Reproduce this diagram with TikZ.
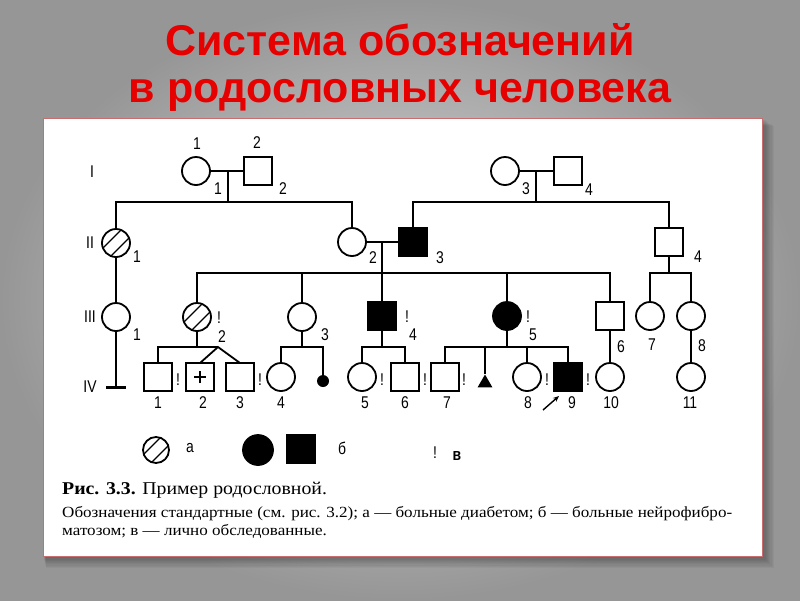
\documentclass[tikz,border=0pt]{standalone}
\usepackage{fontspec}
\setmainfont{Liberation Serif}
\newfontfamily\titlefont{Liberation Sans}
\newfontfamily\pedfont[FakeStretch=0.82]{Liberation Sans}
\newfontfamily\capfont[FakeStretch=1.10]{Liberation Serif}
\usetikzlibrary{shapes.geometric, arrows.meta}
\definecolor{titlered}{RGB}{230,0,0}
\definecolor{bgin}{RGB}{222,222,222}
\definecolor{bgout}{RGB}{150,150,150}
\definecolor{panelborder}{RGB}{200,110,110}
\begin{document}
\begin{tikzpicture}[x=1pt,y=-1pt,
  person/.style={draw, line width=1.8pt, minimum size=28pt, inner sep=0pt, outer sep=0pt},
  fem/.style={person, circle},
  mal/.style={person, rectangle},
  aff/.style={fill=black},
  hatched/.style={path picture={
     \draw[line width=1.3pt] ([shift={(-16,8)}]path picture bounding box.center) -- ([shift={(8,-16)}]path picture bounding box.center);
     \draw[line width=1.3pt] ([shift={(-8,16)}]path picture bounding box.center) -- ([shift={(16,-8)}]path picture bounding box.center);}},
  plussign/.style={path picture={
     \draw[line width=1.8pt] ([xshift=-6pt]path picture bounding box.center) -- ([xshift=6pt]path picture bounding box.center);
     \draw[line width=1.8pt] ([yshift=-6pt]path picture bounding box.center) -- ([yshift=6pt]path picture bounding box.center);}},
  lbl/.style={font=\pedfont\fontsize{17}{17}\selectfont, inner sep=0pt},
  link/.style={line width=1.8pt},
]
\useasboundingbox (0,0) rectangle (800,600);
\shade[inner color=bgin, outer color=bgout] (0,0) rectangle (800,600);
% panel shadow
\foreach \k in {1,...,10}
  \fill[black, opacity=0.035] (43+\k*0.3, 118+\k*0.8) rectangle (762+\k*1.2, 556+\k*1.2);
\fill[white] (43,118) rectangle (762,556);
\draw[panelborder, line width=0.8pt] (43,118) rectangle (762,556);

% title
\node[anchor=base, inner sep=0pt, text=titlered, font=\titlefont\bfseries\fontsize{43}{43}\selectfont] (title1) at (400,55) {Система обозначений};
\node[anchor=base, inner sep=0pt, text=titlered, font=\titlefont\bfseries\fontsize{43}{43}\selectfont] (title2) at (400,102) {в родословных человека};

% generation labels
\node[lbl] (gI) at (92,172) {I};
\node[lbl] (gII) at (90,243) {II};
\node[lbl] (gIII) at (90,317) {III};
\node[lbl] (gIV) at (90,387) {IV};

% generation I
\node[fem] (I1) at (196,171) {};
\node[mal] (I2) at (258,171) {};
\node[fem] (I3) at (505,171) {};
\node[mal] (I4) at (568,171) {};
% generation II
\node[fem, hatched] (II1) at (116,243) {};
\node[fem] (II2) at (352,242) {};
\node[mal, aff] (II3) at (413,242) {};
\node[mal] (II4) at (669,242) {};
% generation III
\node[fem] (III1) at (116,317) {};
\node[fem, hatched] (III2) at (197,317) {};
\node[fem] (III3) at (302,317) {};
\node[mal, aff] (III4) at (382,316) {};
\node[fem, aff] (III5) at (507,316) {};
\node[mal] (III6) at (610,316) {};
\node[fem] (III7) at (650,316) {};
\node[fem] (III8) at (691,316) {};
% generation IV
\node[mal] (IV1) at (158,377) {};
\node[mal, plussign] (IV2) at (200,377) {};
\node[mal] (IV3) at (240,377) {};
\node[fem] (IV4) at (281,377) {};
\node[circle, fill=black, minimum size=12pt, inner sep=0pt] (sb) at (323,381) {};
\node[fem] (IV5) at (362,377) {};
\node[mal] (IV6) at (405,377) {};
\node[mal] (IV7) at (445,377) {};
\node[regular polygon, regular polygon sides=3, fill=black, minimum size=17pt, inner sep=0pt] (tri) at (485,383) {};
\node[fem] (IV8) at (527,377) {};
\node[mal, aff] (IV9) at (568,377) {};
\node[fem] (IV10) at (610,377) {};
\node[fem] (IV11) at (691,377) {};

% connectors
\coordinate (dA) at (228,171);
\coordinate (sA) at (228,202);
\draw[link] (I1) -- (I2);
\draw[link] (dA) -- (sA);
\draw[link] (II1.north) |- (sA) -| (II2.north);

\coordinate (dB) at (536,171);
\coordinate (sB) at (536,202);
\draw[link] (I3) -- (I4);
\draw[link] (dB) -- (sB);
\draw[link] (II3.north) |- (sB) -| (II4.north);

\coordinate (dC) at (382,242);
\coordinate (sC) at (382,273);
\draw[link] (II2) -- (II3);
\draw[link] (dC) -- (sC);
\draw[link] (III2.north) |- (sC) -| (III6.north);
\draw[link] (III3.north) -- (III3.north |- sC);
\draw[link] (III4.north) -- (sC);
\draw[link] (III5.north) -- (III5.north |- sC);

\coordinate (sD) at (669,273);
\draw[link] (II4.south) -- (sD);
\draw[link] (III7.north) |- (sD) -| (III8.north);

\coordinate (tb) at (116,387);
\draw[link] (II1) -- (III1);
\draw[link] (III1) -- (tb);
\draw[line width=3pt] ([xshift=-10pt]tb) -- ([xshift=10pt]tb);

\coordinate (sE) at (197,347);
\coordinate (tw) at (218,347);
\draw[link] (III2) -- (sE);
\draw[link] (IV1.north) |- (tw);
\draw[link] (IV2.north) -- (tw) -- (IV3.north);

\coordinate (sF) at (302,347);
\draw[link] (III3) -- (sF);
\draw[link] (IV4.north) |- (sF) -| (sb.north);

\coordinate (sG) at (382,347);
\draw[link] (III4) -- (sG);
\draw[link] (IV5.north) |- (sG) -| (IV6.north);

\coordinate (sH) at (507,347);
\draw[link] (III5) -- (sH);
\draw[link] (IV7.north) |- (sH) -| (IV9.north);
\draw[link] (tri.north) -- (tri.north |- sH);
\draw[link] (IV8.north) -- (IV8.north |- sH);

\draw[link] (III6) -- (IV10);
\draw[link] (III8) -- (IV11);

\coordinate (pa) at (543,410);
\coordinate (pb) at (559,396);
\draw[line width=1.4pt, -{Stealth[length=6pt,width=5pt]}] (pa) -- (pb);

% labels generation I
\node[lbl] (n1) at (197,144) {1};
\node[lbl] (n2) at (257,143) {2};
\node[lbl] (n3) at (218,189) {1};
\node[lbl] (n4) at (283,189) {2};
\node[lbl] (n5) at (526,189) {3};
\node[lbl] (n6) at (589,190) {4};
% generation II
\node[lbl] (n7) at (137,257) {1};
\node[lbl] (n8) at (373,258) {2};
\node[lbl] (n9) at (440,258) {3};
\node[lbl] (n10) at (698,257) {4};
% generation III
\node[lbl] (n11) at (137,335) {1};
\node[lbl] (n12) at (219,318) {!};
\node[lbl] (n13) at (222,337) {2};
\node[lbl] (n14) at (325,335) {3};
\node[lbl] (n15) at (407,317) {!};
\node[lbl] (n16) at (413,335) {4};
\node[lbl] (n17) at (528,317) {!};
\node[lbl] (n18) at (533,335) {5};
\node[lbl] (n19) at (621,347) {6};
\node[lbl] (n20) at (652,345) {7};
\node[lbl] (n21) at (702,346) {8};
% generation IV numbers
\node[lbl] (m1) at (158,403) {1};
\node[lbl] (m2) at (203,403) {2};
\node[lbl] (m3) at (240,403) {3};
\node[lbl] (m4) at (281,403) {4};
\node[lbl] (m5) at (365,403) {5};
\node[lbl] (m6) at (405,403) {6};
\node[lbl] (m7) at (447,403) {7};
\node[lbl] (m8) at (528,403) {8};
\node[lbl] (m9) at (572,403) {9};
\node[lbl] (m10) at (611,403) {10};
\node[lbl] (m11) at (690,403) {11};
% generation IV marks
\node[lbl] (e1) at (178,380) {!};
\node[lbl] (e2) at (260,380) {!};
\node[lbl] (e3) at (382,380) {!};
\node[lbl] (e4) at (425,380) {!};
\node[lbl] (e5) at (464,380) {!};
\node[lbl] (e6) at (547,380) {!};
\node[lbl] (e7) at (588,380) {!};

% legend
\node[fem, hatched, minimum size=26pt] (legA) at (156,450) {};
\node[lbl] (legAt) at (190,448) {а};
\node[fem, aff, minimum size=30pt] (legB1) at (258,450) {};
\node[mal, aff, minimum size=29pt] (legB2) at (301,449) {};
\node[lbl] (legBt) at (342,448) {б};
\node[lbl] (legCm) at (435,453) {!};
\node[lbl, font=\pedfont\bfseries\fontsize{17}{17}\selectfont] (legCt) at (457,456) {в};

% caption
\node[anchor=base west, inner sep=0pt, font=\capfont\fontsize{18}{18}\selectfont] (cap1) at (62,494) {\textbf{Рис. 3.3.} Пример родословной.};
\node[anchor=base west, inner sep=0pt, font=\capfont\fontsize{15.5}{15.5}\selectfont] (cap2) at (62,517) {Обозначения стандартные (см. рис. 3.2); а — больные диабетом; б — больные нейрофибро-};
\node[anchor=base west, inner sep=0pt, font=\capfont\fontsize{15.5}{15.5}\selectfont] (cap3) at (62,535) {матозом; в — лично обследованные.};
\end{tikzpicture}
\end{document}
